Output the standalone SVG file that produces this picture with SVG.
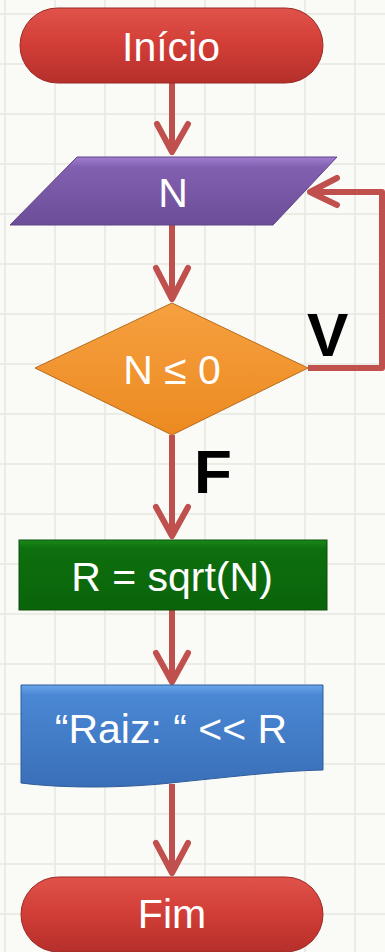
<svg xmlns="http://www.w3.org/2000/svg" width="385" height="952" viewBox="0 0 385 952">
<style>
.lbl{font-family:"Liberation Sans",Arial,sans-serif;font-size:41px;fill:#ffffff;text-anchor:middle}
.big{font-family:"Liberation Sans",Arial,sans-serif;font-size:62px;font-weight:bold;fill:#000000}
.conn{fill:none;stroke:#c0504d;stroke-width:6;stroke-linejoin:round}
.head{fill:none;stroke:#c0504d;stroke-width:6;stroke-linecap:round;stroke-linejoin:round}
.grid{stroke:#e8e8e2;stroke-width:1.5}
</style>
<defs>
<linearGradient id="gRed" x1="0" y1="0" x2="0" y2="1"><stop offset="0" stop-color="#e0534a"/><stop offset="0.5" stop-color="#d13d36"/><stop offset="1" stop-color="#b52f2b"/></linearGradient>
<linearGradient id="gPur" x1="0" y1="0" x2="0" y2="1"><stop offset="0" stop-color="#a07fd0"/><stop offset="0.15" stop-color="#8260b0"/><stop offset="1" stop-color="#6b4d98"/></linearGradient>
<linearGradient id="gOr" x1="0" y1="0" x2="0" y2="1"><stop offset="0" stop-color="#f6a040"/><stop offset="1" stop-color="#ec8a20"/></linearGradient>
<linearGradient id="gGr" x1="0" y1="0" x2="0" y2="1"><stop offset="0" stop-color="#1a8a1a"/><stop offset="0.12" stop-color="#0d6f0d"/><stop offset="1" stop-color="#0a640a"/></linearGradient>
<linearGradient id="gBl" x1="0" y1="0" x2="0" y2="1"><stop offset="0" stop-color="#6aa6ea"/><stop offset="0.1" stop-color="#4a87d4"/><stop offset="1" stop-color="#3a6fb8"/></linearGradient>
</defs>
<rect x="0" y="0" width="385" height="952" fill="#fafaf6"/>
<g id="grid">
<path class="grid" d="M5,0V952M55,0V952M105,0V952M155,0V952M205,0V952M255,0V952M305,0V952M355,0V952"/>
<path class="grid" d="M0,14H385M0,64H385M0,114H385M0,164H385M0,214H385M0,264H385M0,314H385M0,364H385M0,414H385M0,464H385M0,514H385M0,564H385M0,614H385M0,664H385M0,714H385M0,764H385M0,814H385M0,864H385M0,914H385"/>
</g>
<g id="connectors">
<path class="conn" d="M172,83V152"/>
<path class="head" d="M157,124L172,152L188,124"/>
<path class="conn" d="M172,225V299"/>
<path class="head" d="M156,268L172,299L188,268"/>
<path class="conn" d="M308,368H382V192H310"/>
<path class="head" d="M337,178L310,192L337,205"/>
<path class="conn" d="M172,435V536"/>
<path class="head" d="M156,507L172,536L188,507"/>
<path class="conn" d="M172,610V682"/>
<path class="head" d="M156,653L172,682L188,653"/>
<path class="conn" d="M172,784V873"/>
<path class="head" d="M156,843L172,873L188,843"/>
<text class="big" x="307" y="356">V</text>
<text class="big" x="194" y="493">F</text>
</g>
<g id="start">
<rect x="20" y="8" width="303" height="75" rx="37.5" fill="url(#gRed)" stroke="#9a2a26" stroke-width="1"/>
<text class="lbl" x="171" y="61">Início</text>
</g>
<g id="inputN">
<polygon points="77,157 337,157 273,225 10,225" fill="url(#gPur)" stroke="#5e4488" stroke-width="1"/>
<text class="lbl" x="173" y="207">N</text>
</g>
<g id="decision">
<polygon points="172,303 308,368 172,435 35,368" fill="url(#gOr)" stroke="#b86a1a" stroke-width="1"/>
<text class="lbl" x="172" y="384" font-size="40">N ≤ 0</text>
</g>
<g id="process">
<rect x="19" y="540" width="308" height="70" fill="url(#gGr)" stroke="#0a4f0a" stroke-width="1"/>
<text class="lbl" x="172" y="591">R = sqrt(N)</text>
</g>
<g id="output">
<path d="M21,685H323V770C280,771 240,776 180,782C120,789 60,788 21,783Z" fill="url(#gBl)" stroke="#2f5c9a" stroke-width="1"/>
<text class="lbl" x="171" y="743">“Raiz: “ &lt;&lt; R</text>
</g>
<g id="end">
<rect x="21" y="877" width="302" height="75" rx="37.5" fill="url(#gRed)" stroke="#9a2a26" stroke-width="1"/>
<text class="lbl" x="172" y="928">Fim</text>
</g>
</svg>
